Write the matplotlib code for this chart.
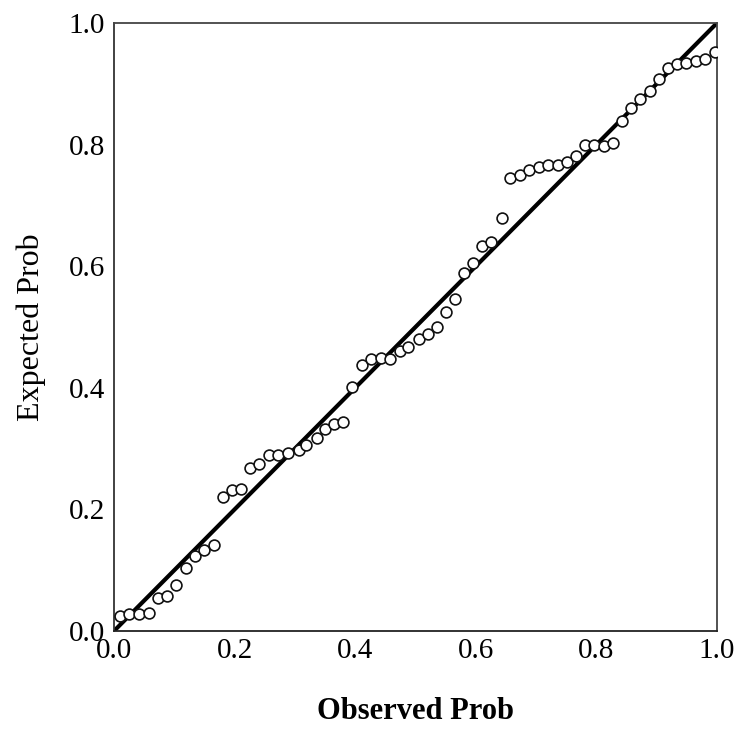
import matplotlib
matplotlib.use("Agg")
import matplotlib.pyplot as plt

observed = [0.010, 0.025, 0.042, 0.058, 0.073, 0.088, 0.103, 0.120, 0.135, 0.150,
            0.166, 0.181, 0.196, 0.211, 0.226, 0.241, 0.257, 0.272, 0.289, 0.306,
            0.319, 0.336, 0.350, 0.365, 0.380, 0.395, 0.412, 0.427, 0.442, 0.458,
            0.475, 0.488, 0.505, 0.520, 0.535, 0.550, 0.565, 0.580, 0.596, 0.611,
            0.626, 0.643, 0.656, 0.673, 0.688, 0.704, 0.719, 0.736, 0.751, 0.766,
            0.781, 0.796, 0.812, 0.827, 0.842, 0.857, 0.872, 0.889, 0.904, 0.919,
            0.934, 0.949, 0.965, 0.980, 0.997]
expected = [0.025, 0.028, 0.028, 0.030, 0.054, 0.058, 0.076, 0.104, 0.123, 0.133,
            0.141, 0.220, 0.232, 0.234, 0.268, 0.275, 0.289, 0.289, 0.293, 0.298,
            0.306, 0.317, 0.332, 0.340, 0.344, 0.401, 0.438, 0.447, 0.449, 0.447,
            0.461, 0.467, 0.480, 0.488, 0.500, 0.525, 0.546, 0.589, 0.605, 0.633,
            0.640, 0.679, 0.745, 0.750, 0.758, 0.763, 0.766, 0.766, 0.771, 0.781,
            0.799, 0.799, 0.798, 0.803, 0.839, 0.860, 0.875, 0.888, 0.908, 0.926,
            0.933, 0.934, 0.938, 0.941, 0.952]
ref_line = [0.0, 1.0]
ticks = [0.0, 0.2, 0.4, 0.6, 0.8, 1.0]
tick_labels = ["0.0", "0.2", "0.4", "0.6", "0.8", "1.0"]

plt.rcParams['font.family'] = ['Liberation Serif', 'DejaVu Serif']

fig = plt.figure(figsize=(7.44, 7.30), dpi=100)
ax = fig.add_axes([114/744, 1 - 631/730, (717 - 114)/744, (631 - 23)/730])

ax.plot(ref_line, ref_line, color='black', lw=3.0, zorder=2, solid_capstyle='butt')
ax.plot(observed, expected, linestyle='none', marker='o', markersize=7.8,
        markerfacecolor='white', markeredgecolor='#111111', markeredgewidth=1.2, zorder=3)

ax.set_xlim(0, 1)
ax.set_ylim(0, 1)
ax.set_xticks(ticks)
ax.set_xticklabels(tick_labels)
ax.set_yticks(ticks)
ax.set_yticklabels(tick_labels)
ax.tick_params(axis='x', length=0, labelsize=21, pad=5)
ax.tick_params(axis='y', length=0, labelsize=21, pad=6.5)

for side in ['top', 'right', 'left', 'bottom']:
    ax.spines[side].set_color('#444444')
    ax.spines[side].set_linewidth(1.3)
ax.spines['bottom'].set_color('#222222')
ax.spines['left'].set_color('#333333')

ax.set_xlabel('Observed Prob', fontsize=22, fontweight='bold', labelpad=24)
ax.set_ylabel('Expected Prob', fontsize=23, labelpad=16)

fig.savefig('out.png', dpi=100)
